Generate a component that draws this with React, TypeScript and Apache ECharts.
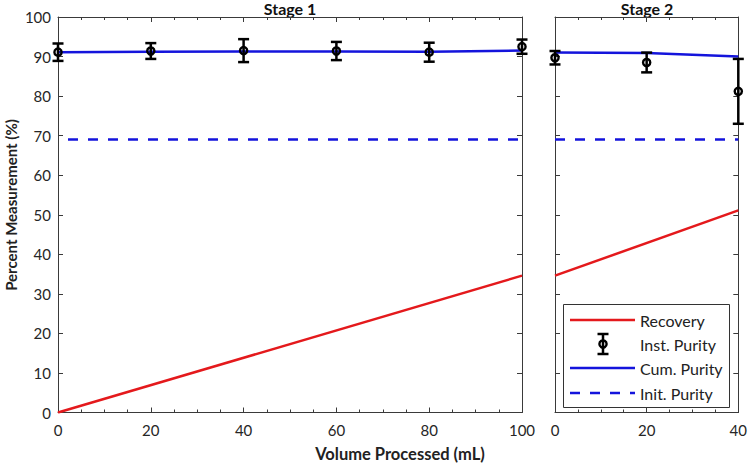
import React, { useEffect, useRef } from "react";
import * as echarts from "echarts";

// ---- data ----
const stage1Volume = [0, 20, 40, 60, 80, 100];
const stage1InstPurity = [91.1, 91.4, 91.5, 91.4, 91.1, 92.5];
const stage1InstError = [2.2, 2.0, 2.9, 2.3, 2.4, 1.8];
const stage1CumPurity = [91.1, 91.2, 91.3, 91.3, 91.2, 91.5];
const stage1RecoveryVolume = [0, 100];
const stage1Recovery = [0, 34.6];

const stage2Volume = [0, 20, 40];
const stage2InstPurity = [89.7, 88.5, 81.2];
const stage2InstError = [1.7, 2.5, 8.2];
const stage2CumPurity = [91.0, 90.9, 90.0];
const stage2RecoveryVolume = [0, 40];
const stage2Recovery = [34.6, 51.1];

const initPurity = 69.0;
const stage1Range = [0, 100];
const stage2Range = [0, 40];
const legendLabels = ["Recovery", "Inst. Purity", "Cum. Purity", "Init. Purity"];

const RED = "#e4191c";
const BLUE = "#1414dc";
const AXIS = "#3a3a3a";
const FONT = "Lato";

const errorBarRender = (_params: any, api: any) => {
  const x = api.value(0);
  const y = api.value(1);
  const e = api.value(2);
  const c = api.coord([x, y]);
  const t = api.coord([x, y + e]);
  const b = api.coord([x, y - e]);
  const hw = 5.5;
  const style = { stroke: "#000", lineWidth: 2.5, fill: "none" };
  return {
    type: "group",
    children: [
      { type: "line", shape: { x1: c[0], y1: t[1], x2: c[0], y2: b[1] }, style },
      { type: "line", shape: { x1: c[0] - hw, y1: t[1], x2: c[0] + hw, y2: t[1] }, style },
      { type: "line", shape: { x1: c[0] - hw, y1: b[1], x2: c[0] + hw, y2: b[1] }, style },
      { type: "circle", shape: { cx: c[0], cy: c[1], r: 3.6 }, style: { stroke: "#000", lineWidth: 2.4, fill: "none" } },
    ],
  };
};

const xAxisCommon = (grid: number, range: number[], pos: "top" | "bottom", labels: boolean) => ({
  type: "value",
  gridIndex: grid,
  position: pos,
  min: range[0],
  max: range[1],
  interval: 20,
  axisLine: { show: true, onZero: false, lineStyle: { color: AXIS, width: 1 } },
  axisTick: { show: true, inside: true, length: 5, lineStyle: { color: AXIS } },
  minorTick: { show: true, splitNumber: 4, length: 3, lineStyle: { color: AXIS } },
  axisLabel: { show: labels, fontFamily: FONT, fontSize: 15, color: "#262626", margin: 10 },
  splitLine: { show: false },
  minorSplitLine: { show: false },
});

const yAxisCommon = (grid: number, pos: "left" | "right", labels: boolean) => ({
  type: "value",
  gridIndex: grid,
  position: pos,
  min: 0,
  max: 100,
  interval: 10,
  axisLine: { show: true, onZero: false, lineStyle: { color: AXIS, width: 1 } },
  axisTick: { show: true, inside: true, length: 5, lineStyle: { color: AXIS } },
  axisLabel: { show: labels, fontFamily: FONT, fontSize: 15, color: "#262626", margin: 7 },
  splitLine: { show: false },
});

export default function App() {
  const ref = useRef<HTMLDivElement>(null);
  useEffect(() => {
    if (!ref.current) return;
    const chart = echarts.init(ref.current, null, { renderer: "svg" });

    const legendX0 = 570;
    const legendX1 = 635;
    const legendTextX = 640;
    const rows = [320, 344, 368, 393];

    const option: any = {
      animation: false,
      backgroundColor: "#fff",
      grid: [
        { left: 58, top: 17, width: 464, height: 395.5 },
        { left: 555, top: 17, width: 185, height: 395.5 },
      ],
      xAxis: [
        xAxisCommon(0, stage1Range, "bottom", true),
        xAxisCommon(0, stage1Range, "top", false),
        xAxisCommon(1, stage2Range, "bottom", true),
        xAxisCommon(1, stage2Range, "top", false),
      ],
      yAxis: [
        yAxisCommon(0, "left", true),
        yAxisCommon(0, "right", false),
        yAxisCommon(1, "left", false),
        yAxisCommon(1, "right", false),
      ],
      series: [
        // Stage 1
        {
          type: "line",
          xAxisIndex: 0,
          yAxisIndex: 0,
          data: stage1RecoveryVolume.map((v, i) => [v, stage1Recovery[i]]),
          showSymbol: false,
          lineStyle: { color: RED, width: 2.5 },
          z: 3,
        },
        {
          type: "line",
          xAxisIndex: 0,
          yAxisIndex: 0,
          data: stage1Range.map((v) => [v, initPurity]),
          showSymbol: false,
          lineStyle: { color: BLUE, width: 2.5, type: [10, 10], dashOffset: 10 },
          z: 3,
        },
        {
          type: "line",
          xAxisIndex: 0,
          yAxisIndex: 0,
          data: stage1Volume.map((v, i) => [v, stage1CumPurity[i]]),
          showSymbol: false,
          lineStyle: { color: BLUE, width: 2.5 },
          z: 3,
        },
        {
          type: "custom",
          xAxisIndex: 0,
          yAxisIndex: 0,
          renderItem: errorBarRender,
          encode: { x: 0, y: 1 },
          data: stage1Volume.map((v, i) => [v, stage1InstPurity[i], stage1InstError[i]]),
          clip: false,
          z: 5,
        },
        // Stage 2
        {
          type: "line",
          xAxisIndex: 2,
          yAxisIndex: 2,
          data: stage2RecoveryVolume.map((v, i) => [v, stage2Recovery[i]]),
          showSymbol: false,
          lineStyle: { color: RED, width: 2.5 },
          z: 3,
        },
        {
          type: "line",
          xAxisIndex: 2,
          yAxisIndex: 2,
          data: stage2Range.map((v) => [v, initPurity]),
          showSymbol: false,
          lineStyle: { color: BLUE, width: 2.5, type: [10, 10] },
          z: 3,
        },
        {
          type: "line",
          xAxisIndex: 2,
          yAxisIndex: 2,
          data: stage2Volume.map((v, i) => [v, stage2CumPurity[i]]),
          showSymbol: false,
          lineStyle: { color: BLUE, width: 2.5 },
          z: 3,
        },
        {
          type: "custom",
          xAxisIndex: 2,
          yAxisIndex: 2,
          renderItem: errorBarRender,
          encode: { x: 0, y: 1 },
          data: stage2Volume.map((v, i) => [v, stage2InstPurity[i], stage2InstError[i]]),
          clip: false,
          z: 5,
        },
      ],
      graphic: [
        {
          type: "text",
          x: 290,
          y: 8.5,
          style: { text: "Stage 1", font: `bold 16px ${FONT}`, fill: "#111", textAlign: "center", textVerticalAlign: "middle" },
        },
        {
          type: "text",
          x: 647,
          y: 8.5,
          style: { text: "Stage 2", font: `bold 16px ${FONT}`, fill: "#111", textAlign: "center", textVerticalAlign: "middle" },
        },
        {
          type: "text",
          x: 400,
          y: 454,
          style: { text: "Volume Processed (mL)", font: `bold 16.5px ${FONT}`, fill: "#222", textAlign: "center", textVerticalAlign: "middle" },
        },
        {
          type: "text",
          x: 11,
          y: 205,
          rotation: Math.PI / 2,
          style: { text: "Percent Measurement (%)", font: `bold 15px ${FONT}`, fill: "#222", textAlign: "center", textVerticalAlign: "middle" },
        },
        {
          type: "group",
          z: 100,
          children: [
            { type: "rect", shape: { x: 563.5, y: 304.5, width: 166, height: 103 }, style: { fill: "#fff", stroke: "#333", lineWidth: 1 } },
            { type: "line", shape: { x1: legendX0, y1: rows[0], x2: legendX1, y2: rows[0] }, style: { stroke: RED, lineWidth: 2.5 } },
            { type: "line", shape: { x1: 603, y1: rows[1] - 10, x2: 603, y2: rows[1] + 10 }, style: { stroke: "#000", lineWidth: 2.5 } },
            { type: "line", shape: { x1: 597.5, y1: rows[1] - 10, x2: 608.5, y2: rows[1] - 10 }, style: { stroke: "#000", lineWidth: 2.5 } },
            { type: "line", shape: { x1: 597.5, y1: rows[1] + 10, x2: 608.5, y2: rows[1] + 10 }, style: { stroke: "#000", lineWidth: 2.5 } },
            { type: "circle", shape: { cx: 603, cy: rows[1], r: 3.6 }, style: { stroke: "#000", lineWidth: 2.4, fill: "none" } },
            { type: "line", shape: { x1: legendX0, y1: rows[2], x2: legendX1, y2: rows[2] }, style: { stroke: BLUE, lineWidth: 2.5 } },
            { type: "line", shape: { x1: legendX0, y1: rows[3], x2: legendX1, y2: rows[3] }, style: { stroke: BLUE, lineWidth: 2.5, lineDash: [10, 10] } },
            ...legendLabels.map((t, i) => ({
              type: "text",
              x: legendTextX,
              y: rows[i],
              style: { text: t, font: `16px ${FONT}`, fill: "#222", textAlign: "left", textVerticalAlign: "middle" },
            })),
          ],
        },
      ],
    };
    chart.setOption(option);
    return () => chart.dispose();
  }, []);
  return <div ref={ref} style={{ position: "fixed", left: 0, top: 0, width: 750, height: 465 }} />;
}
